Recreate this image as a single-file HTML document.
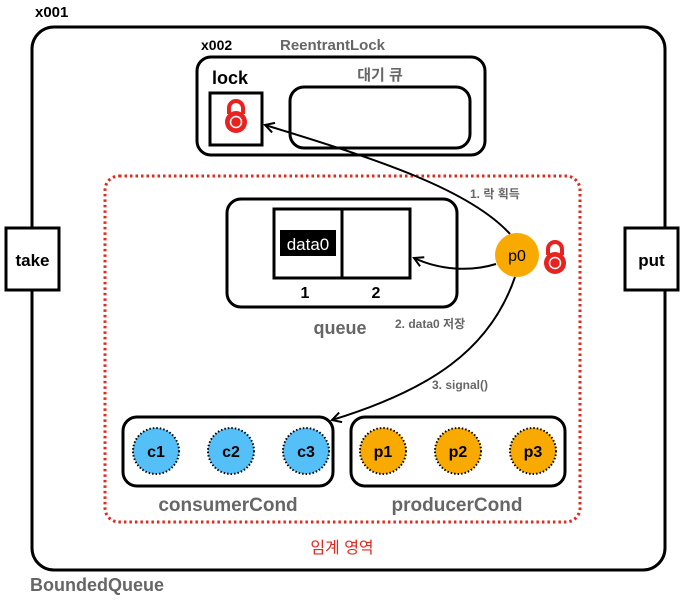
<!DOCTYPE html>
<html><head><meta charset="utf-8"><style>
html,body{margin:0;padding:0;background:#fff;}
svg text{font-family:"Liberation Sans","Noto Sans CJK KR",sans-serif;font-weight:bold;}
</style></head><body>
<svg width="683" height="598" viewBox="0 0 683 598" xmlns="http://www.w3.org/2000/svg">
<defs>
<marker id="ar" viewBox="0 0 12 12" refX="10" refY="6" markerWidth="12" markerHeight="12" markerUnits="userSpaceOnUse" orient="auto">
<path d="M1,1 L10,6 L1,11" fill="none" stroke="#000" stroke-width="2"/>
</marker>
<g id="padlock">
<path d="M-7,-2 v-6 a7,7 0 0 1 14,0 v6" fill="none" stroke="#e8231f" stroke-width="4"/>
<circle cx="0" cy="6" r="11" fill="#e8231f"/>
<circle cx="0" cy="6" r="5.5" fill="none" stroke="#fff" stroke-width="1.5"/>
</g>
</defs>
<text x="35" y="17" font-size="15" fill="#000">x001</text>
<rect x="32" y="27" width="633" height="543" rx="22" fill="none" stroke="#000" stroke-width="3"/>
<text x="30" y="591" font-size="18" fill="#666">BoundedQueue</text>
<rect x="6" y="228" width="53" height="62" fill="#fff" stroke="#000" stroke-width="3"/>
<text x="32.5" y="266" font-size="17" fill="#000" text-anchor="middle">take</text>
<rect x="625" y="228" width="53" height="62" fill="#fff" stroke="#000" stroke-width="3"/>
<text x="651.5" y="266" font-size="17" fill="#000" text-anchor="middle">put</text>

<text x="201" y="50" font-size="14" fill="#000">x002</text>
<text x="280" y="50" font-size="15" fill="#666">ReentrantLock</text>
<rect x="197" y="57" width="288" height="98" rx="14" fill="none" stroke="#000" stroke-width="3"/>
<text x="212" y="84" font-size="18" fill="#000">lock</text>
<rect x="210" y="93" width="52" height="52" fill="none" stroke="#000" stroke-width="3"/>
<use href="#padlock" x="236" y="116"/>
<text x="380" y="80" font-size="15" fill="#666" text-anchor="middle">대기 큐</text>
<rect x="290" y="87" width="180" height="61" rx="14" fill="none" stroke="#000" stroke-width="3"/>

<rect x="105" y="176" width="475" height="346" rx="14" fill="none" stroke="#e02a20" stroke-width="3" stroke-dasharray="2.5 3"/>

<rect x="227" y="199" width="230" height="108" rx="14" fill="none" stroke="#000" stroke-width="3"/>
<rect x="274" y="209" width="136" height="69" fill="none" stroke="#000" stroke-width="3"/>
<line x1="342" y1="209" x2="342" y2="278" stroke="#000" stroke-width="3"/>
<rect x="280" y="230" width="56" height="26" fill="#000"/>
<text x="308" y="250" font-size="17" fill="#fff" text-anchor="middle" style="font-weight:normal">data0</text>
<text x="305" y="298" font-size="16" fill="#000" text-anchor="middle">1</text>
<text x="376" y="298" font-size="16" fill="#000" text-anchor="middle">2</text>
<text x="340" y="334" font-size="18" fill="#666" text-anchor="middle">queue</text>

<path d="M510,234 C470,190 380,160 265,125" fill="none" stroke="#000" stroke-width="2" marker-end="url(#ar)"/>
<path d="M496,264 C470,272 440,270 414,258" fill="none" stroke="#000" stroke-width="2" marker-end="url(#ar)"/>
<path d="M515,277 C490,350 430,390 332,420" fill="none" stroke="#000" stroke-width="2" marker-end="url(#ar)"/>
<text x="470" y="198" font-size="12" fill="#666">1. 락 획득</text>
<text x="395" y="328" font-size="12" fill="#666">2. data0 저장</text>
<text x="432" y="389" font-size="12" fill="#666">3. signal()</text>

<circle cx="517" cy="255" r="22" fill="#f9aa00"/>
<text x="517" y="261" font-size="16" fill="#000" text-anchor="middle" style="font-weight:normal">p0</text>
<use href="#padlock" x="555" y="257"/>

<rect x="123" y="417" width="210" height="69" rx="14" fill="none" stroke="#000" stroke-width="3"/>
<rect x="351" y="417" width="214" height="69" rx="14" fill="none" stroke="#000" stroke-width="3"/>
<g stroke="#000" stroke-width="2" stroke-dasharray="1.5 2" font-size="16">
<circle cx="156" cy="451" r="23" fill="#55bff8"/>
<circle cx="231" cy="451" r="23" fill="#55bff8"/>
<circle cx="306" cy="451" r="23" fill="#55bff8"/>
<circle cx="383" cy="451" r="23" fill="#f9aa00"/>
<circle cx="458" cy="451" r="23" fill="#f9aa00"/>
<circle cx="533" cy="451" r="23" fill="#f9aa00"/>
</g>
<g font-size="16" fill="#000" text-anchor="middle">
<text x="156" y="457">c1</text><text x="231" y="457">c2</text><text x="306" y="457">c3</text>
<text x="383" y="457">p1</text><text x="458" y="457">p2</text><text x="533" y="457">p3</text>
</g>
<text x="228" y="511" font-size="19" fill="#666" text-anchor="middle">consumerCond</text>
<text x="457" y="511" font-size="19" fill="#666" text-anchor="middle">producerCond</text>
<text x="342" y="553" font-size="16" fill="#e02a20" text-anchor="middle" style="font-weight:normal">임계 영역</text>
</svg>
</body></html>
